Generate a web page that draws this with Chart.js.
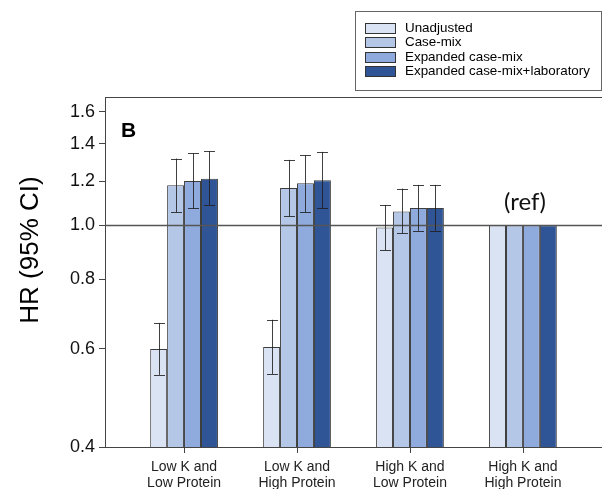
<!DOCTYPE html>
<html>
<head>
<meta charset="utf-8">
<script src="https://cdn.jsdelivr.net/npm/chart.js@4/dist/chart.umd.min.js"></script>
<style>
  html, body { margin: 0; padding: 0; background: #fff; }
  canvas { display: block; }
</style>
</head>
<body>
<canvas id="c" width="602" height="489"></canvas>
<script>
// ---- data ----
const categories = [
  ["Low K and", "Low Protein"],
  ["Low K and", "High Protein"],
  ["High K and", "Low Protein"],
  ["High K and", "High Protein"]
];
const seriesNames = ["Unadjusted", "Case-mix", "Expanded case-mix", "Expanded case-mix+laboratory"];
const unadjusted    = [0.600, 0.605, 0.991, 1.0];
const unadjustedLo  = [0.539, 0.541, 0.903, null];
const unadjustedHi  = [0.668, 0.677, 1.088, null];
const caseMix       = [1.180, 1.167, 1.059, 1.0];
const caseMixLo     = [1.055, 1.038, 0.967, null];
const caseMixHi     = [1.318, 1.311, 1.164, null];
const expanded      = [1.201, 1.190, 1.074, 1.0];
const expandedLo    = [1.073, 1.057, 0.978, null];
const expandedHi    = [1.346, 1.336, 1.182, null];
const expandedLab   = [1.213, 1.205, 1.074, 1.0];
const expandedLabLo = [1.088, 1.073, 0.978, null];
const expandedLabHi = [1.358, 1.355, 1.182, null];
const yTicks = [0.4, 0.6, 0.8, 1.0, 1.2, 1.4, 1.6];
const refValue = 1.0;
const refLabel = "(ref)";
const panelLabel = "B";
const yTitle = "HR (95% CI)";

// ---- styling ----
const colors = ["#dae3f3", "#b4c7e7", "#8faadc", "#2f5597"];
const seriesValues = [unadjusted, caseMix, expanded, expandedLab];
const seriesLo = [unadjustedLo, caseMixLo, expandedLo, expandedLabLo];
const seriesHi = [unadjustedHi, caseMixHi, expandedHi, expandedLabHi];

const datasets = seriesValues.map((vals, k) => ({
  label: seriesNames[k],
  data: vals.map((v, i) => ({ x: i, y: v })),
  lo: seriesLo[k],
  hi: seriesHi[k],
  backgroundColor: colors[k],
  borderColor: "rgba(40,40,40,0.9)",
  borderWidth: 1,
  categoryPercentage: 0.6,
  barPercentage: 1.0
}));

const overlay = {
  id: "overlay",
  afterDatasetsDraw(chart) {
    const { ctx, chartArea, scales } = chart;
    const ys = scales.y, xs = scales.x;
    ctx.save();
    // reference line
    const yr = Math.round(ys.getPixelForValue(refValue)) + 0.5;
    ctx.strokeStyle = "#555";
    ctx.lineWidth = 1.3;
    ctx.beginPath();
    ctx.moveTo(chartArea.left, yr);
    ctx.lineTo(chartArea.right, yr);
    ctx.stroke();
    // error bars
    ctx.strokeStyle = "rgba(30,30,30,0.85)";
    ctx.lineWidth = 1;
    chart.data.datasets.forEach((ds, di) => {
      const meta = chart.getDatasetMeta(di);
      meta.data.forEach((bar, i) => {
        const lo = ds.lo[i], hi = ds.hi[i];
        if (lo == null || hi == null) return;
        const x = Math.round(bar.x) + 0.5;
        const y1 = ys.getPixelForValue(lo), y2 = ys.getPixelForValue(hi);
        const cap = 5.5;
        ctx.beginPath();
        ctx.moveTo(x, y1); ctx.lineTo(x, y2);
        ctx.moveTo(x - cap, Math.round(y1) + 0.5); ctx.lineTo(x + cap, Math.round(y1) + 0.5);
        ctx.moveTo(x - cap, Math.round(y2) + 0.5); ctx.lineTo(x + cap, Math.round(y2) + 0.5);
        ctx.stroke();
      });
    });
    // top frame line
    ctx.strokeStyle = "#444";
    ctx.lineWidth = 1;
    ctx.beginPath();
    ctx.moveTo(chartArea.left, Math.round(chartArea.top) + 0.5);
    ctx.lineTo(chartArea.right, Math.round(chartArea.top) + 0.5);
    // x tick marks at category centres
    const yb = Math.round(chartArea.bottom);
    categories.forEach((_, i) => {
      const tx = Math.round(xs.getPixelForValue(i)) + 0.5;
      ctx.moveTo(tx, yb);
      ctx.lineTo(tx, yb + 6);
    });
    ctx.stroke();
    // (ref) label
    ctx.fillStyle = "#111";
    ctx.font = "24px Lato, 'Open Sans', sans-serif";
    ctx.textAlign = "center";
    ctx.textBaseline = "middle";
    ctx.fillText(refLabel, xs.getPixelForValue(3) + 2, 202);
    // panel label
    ctx.font = "bold 21px 'Liberation Sans', Arial, sans-serif";
    ctx.textAlign = "left";
    ctx.textBaseline = "alphabetic";
    ctx.fillStyle = "#000";
    ctx.fillText(panelLabel, 121, 137);
    // y title
    ctx.save();
    ctx.translate(31, 250);
    ctx.rotate(-Math.PI / 2);
    ctx.font = "26px 'Liberation Sans', Arial, sans-serif";
    ctx.textAlign = "center";
    ctx.textBaseline = "middle";
    ctx.fillText(yTitle, 0, 0);
    ctx.restore();
    // legend
    const lx = 355.5, ly = 11.5, lw = 246, lh = 79;
    ctx.fillStyle = "#fff";
    ctx.fillRect(lx, ly, lw, lh);
    ctx.strokeStyle = "#666";
    ctx.lineWidth = 1;
    ctx.strokeRect(lx, ly, lw, lh);
    ctx.font = "13.4px 'Liberation Sans', Arial, sans-serif";
    ctx.textBaseline = "middle";
    chart.data.datasets.forEach((ds, k) => {
      const cy = 27.7 + k * 14.4;
      ctx.fillStyle = ds.backgroundColor;
      ctx.fillRect(365.5, Math.round(cy - 5) + 0.5, 30, 10);
      ctx.strokeStyle = "#333";
      ctx.strokeRect(365.5, Math.round(cy - 5) + 0.5, 30, 10);
      ctx.fillStyle = "#000";
      ctx.fillText(ds.label, 405, cy + 0.5);
    });
    ctx.restore();
  }
};

new Chart(document.getElementById("c"), {
  type: "bar",
  data: { datasets },
  options: {
    responsive: false,
    animation: false,
    events: [],
    layout: { padding: { top: 97, left: 0, right: 0, bottom: 0 } },
    plugins: { legend: { display: false }, tooltip: { enabled: false } },
    scales: {
      x: {
        type: "linear",
        offset: false,
        min: -0.7,
        max: 3.7,
        afterFit(s) { s.height = 42; },
        afterBuildTicks(s) { s.ticks = categories.map((_, i) => ({ value: i })); },
        ticks: {
          callback: (v) => categories[v] || "",
          font: { family: "'Liberation Sans', Arial, sans-serif", size: 14, lineHeight: 1.17 },
          color: "#222",
          padding: 12,
          maxRotation: 0,
          autoSkip: false
        },
        grid: { display: false, drawTicks: false, offset: false },
        border: { display: true, color: "#444", width: 1 }
      },
      y: {
        type: "logarithmic",
        min: 0.4,
        max: 1.70,
        afterFit(s) { s.width = 105; },
        afterBuildTicks(s) { s.ticks = yTicks.map(v => ({ value: v })); },
        ticks: {
          callback: (v) => Number(v).toFixed(1),
          font: { family: "'Liberation Sans', Arial, sans-serif", size: 18 },
          color: "#111",
          padding: 4,
          autoSkip: false
        },
        grid: { drawOnChartArea: false, drawTicks: true, tickLength: 6, color: "#444" },
        border: { display: true, color: "#444", width: 1 }
      }
    }
  },
  plugins: [overlay]
});
</script>
</body>
</html>
